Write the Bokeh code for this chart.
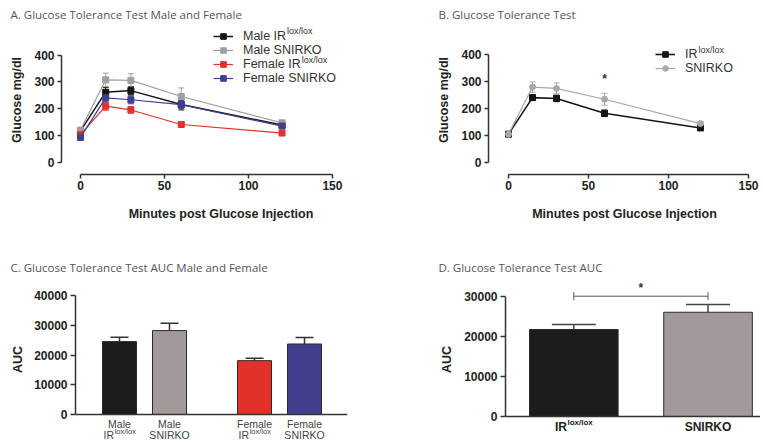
from bokeh.plotting import figure
from bokeh.models import (Range1d, FixedTicker, Whisker, TeeHead, ColumnDataSource,
                          Legend, LegendItem, Label, Span)
from bokeh.layouts import column, row
from bokeh.embed import file_html
from bokeh.resources import INLINE
from bokeh.core.properties import value

# ---------------- data ----------------
time_min = [0, 15, 30, 60, 120]

# Panel A: male and female
male_ir_mean = [118, 262, 268, 216, 140]
male_ir_sem = [8, 18, 15, 20, 8]
male_snirko_mean = [121, 308, 306, 246, 148]
male_snirko_sem = [8, 25, 25, 32, 10]
female_ir_mean = [104, 210, 196, 142, 110]
female_ir_sem = [6, 15, 12, 8, 5]
female_snirko_mean = [94, 241, 234, 216, 136]
female_snirko_sem = [6, 15, 15, 15, 8]

# Panel B: combined
b_ir_mean = [105, 240, 237, 182, 128]
b_ir_sem = [5, 10, 12, 12, 6]
b_snirko_mean = [105, 279, 274, 234, 144]
b_snirko_sem = [5, 19, 20, 22, 8]
b_star_time = [60]
b_star_y = [319]

glucose_x_ticks = [0, 50, 100, 150]
glucose_y_ticks = [0, 100, 200, 300, 400]

# Panel C: AUC male and female
c_sex = ["Male", "Male", "Female", "Female"]
c_genotype = ["IR", "SNIRKO", "IR", "SNIRKO"]
c_auc = [24500, 28200, 18100, 23700]
c_sem = [1500, 2500, 800, 2200]
c_y_ticks = [0, 10000, 20000, 30000, 40000]

# Panel D: AUC combined
d_genotype = ["IR", "SNIRKO"]
d_auc = [21700, 26000]
d_sem = [1250, 1900]
d_sig_y = [30000]
d_y_ticks = [0, 10000, 20000, 30000]

SUP = "lox/lox"

# ---------------- styles ----------------
AX_FONT = "Liberation Sans"
TITLE_FONT = "Open Sans"
AX_COLOR = "#333333"


def style_axes(p, xbounds=None, ybounds=None):
    p.grid.visible = False
    p.outline_line_color = None
    for ax in (p.xaxis, p.yaxis):
        ax.axis_line_color = AX_COLOR
        ax.axis_line_width = 1.5
        ax.major_tick_line_color = AX_COLOR
        ax.major_tick_line_width = 1.5
        ax.major_tick_out = 4
        ax.major_tick_in = 0
        ax.minor_tick_out = 0
        ax.minor_tick_in = 0
        ax.major_label_text_font = AX_FONT
        ax.major_label_text_font_size = "12px"
        ax.major_label_text_font_style = "bold"
        ax.major_label_text_color = "#222222"
        ax.axis_label_text_font = AX_FONT
        ax.axis_label_text_font_size = "12.5px"
        ax.axis_label_text_font_style = "bold"
        ax.axis_label_text_color = "#222222"
    p.yaxis.major_label_standoff = 3
    p.xaxis.major_label_standoff = 2
    if xbounds is not None:
        p.xaxis.bounds = xbounds
    if ybounds is not None:
        p.yaxis.bounds = ybounds


def style_title(p, text, offset, standoff):
    p.title.text = text
    p.title.align = "left"
    p.title.offset = offset
    p.title.standoff = standoff
    p.title.text_font = TITLE_FONT
    p.title.text_font_size = "11.5px"
    p.title.text_font_style = "normal"
    p.title.text_color = "#555555"


def text_label(x, y, text, size, xu="screen", x_offset=0, color="#333333", style="normal",
               align="left"):
    return Label(x=x, y=y, x_units=xu, y_units="screen", x_offset=x_offset, text=text,
                 text_font=AX_FONT, text_font_size=size, text_baseline="middle",
                 text_align=align, text_color=color, text_font_style=style)


def line_series(p, x, mean, sem, color, lw, marker="square", size=6):
    src = ColumnDataSource(dict(x=x, y=mean,
                                lo=[m - s for m, s in zip(mean, sem)],
                                hi=[m + s for m, s in zip(mean, sem)]))
    ln = p.line("x", "y", source=src, line_color=color, line_width=lw)
    sc = p.scatter("x", "y", source=src, marker=marker, size=size,
                   fill_color=color, line_color=color)
    wk = Whisker(source=src, base="x", lower="lo", upper="hi", line_color=color, line_width=1,
                 upper_head=TeeHead(size=6, line_color=color, line_width=1),
                 lower_head=TeeHead(size=6, line_color=color, line_width=1))
    p.add_layout(wk)
    return [ln, sc]


def make_legend(items, loc):
    return Legend(items=items, location=loc, padding=0, margin=0, spacing=0,
                  glyph_width=20, glyph_height=14, label_height=14, label_standoff=10,
                  label_text_font=AX_FONT, label_text_font_size="12.5px",
                  label_text_color="#333333", border_line_color=None, background_fill_alpha=0)


# ---------------- Panel A ----------------
pa = figure(width=380, height=228, x_range=Range1d(-11.3, 178.6), y_range=Range1d(-44.0, 510.1),
            output_backend="svg", toolbar_location=None,
            min_border_left=61, min_border_right=0, min_border_top=24, min_border_bottom=53)
style_axes(pa, xbounds=(0, 150), ybounds=(0, 400))
style_title(pa, "A. Glucose Tolerance Test Male and Female", offset=-51, standoff=8)
pa.xaxis.ticker = FixedTicker(ticks=glucose_x_ticks)
pa.yaxis.ticker = FixedTicker(ticks=glucose_y_ticks)
pa.xaxis.axis_label = "Minutes post Glucose Injection"
pa.xaxis.axis_label_standoff = 14
pa.yaxis.axis_label = "Glucose mg/dl"
pa.yaxis.axis_label_standoff = 7

series_a = [
    ("Male IR", male_ir_mean, male_ir_sem, "#151515", 1.5),
    ("Male SNIRKO", male_snirko_mean, male_snirko_sem, "#a0a0a0", 1.2),
    ("Female IR", female_ir_mean, female_ir_sem, "#e3312a", 1.2),
    ("Female SNIRKO", female_snirko_mean, female_snirko_sem, "#3f3f8e", 1.2),
]
items_a = []
for name, mean, sem, color, lw in series_a:
    rs = line_series(pa, time_min, mean, sem, color, lw)
    items_a.append(LegendItem(label=name, renderers=rs))
pa.add_layout(make_legend(items_a, (152, 89.5)))
pa.add_layout(text_label(225.6, 143.8, SUP, "9px"))
pa.add_layout(text_label(240.2, 115.0, SUP, "9px"))

# ---------------- Panel B ----------------
pb = figure(width=380, height=228, x_range=Range1d(-12.5, 157.5), y_range=Range1d(-44.0, 506.4),
            output_backend="svg", toolbar_location=None,
            min_border_left=108, min_border_right=0, min_border_top=24, min_border_bottom=54)
style_axes(pb, xbounds=(0, 150), ybounds=(0, 400))
style_title(pb, "B. Glucose Tolerance Test", offset=-50, standoff=8)
pb.xaxis.ticker = FixedTicker(ticks=glucose_x_ticks)
pb.yaxis.ticker = FixedTicker(ticks=glucose_y_ticks)
pb.xaxis.axis_label = "Minutes post Glucose Injection"
pb.xaxis.axis_label_standoff = 14
pb.yaxis.axis_label = "Glucose mg/dl"
pb.yaxis.axis_label_standoff = 7

series_b = [
    ("IR", b_ir_mean, b_ir_sem, "#151515", 1.6, "square"),
    ("SNIRKO", b_snirko_mean, b_snirko_sem, "#a8a8a8", 1.2, "circle"),
]
items_b = []
for name, mean, sem, color, lw, mk in series_b:
    rs = line_series(pb, time_min, mean, sem, color, lw, marker=mk)
    items_b.append(LegendItem(label=name, renderers=rs))
pb.add_layout(make_legend(items_b, (167, 99)))
pb.add_layout(text_label(210, 124.8, SUP, "9px"))
pb.text(x=b_star_time, y=b_star_y, text=["*"], text_align="center", text_baseline="middle",
        y_offset=3, text_font=value(AX_FONT), text_font_size="12px", text_font_style="bold",
        text_color="#333333")

# ---------------- Panel C ----------------
sex_order = []
for s in c_sex:
    if s not in sex_order:
        sex_order.append(s)
c_pos = [i + 0.7 * sex_order.index(s) for i, s in enumerate(c_sex)]
c_colors = ["#1d1b1b", "#a19a98", "#e3312a", "#3f3f8e"]

pc = figure(width=380, height=212, x_range=Range1d(-0.88, 4.56), y_range=Range1d(-8739, 45714),
            output_backend="svg", toolbar_location=None,
            min_border_left=75, min_border_right=33, min_border_top=50, min_border_bottom=0)
style_axes(pc, ybounds=(0, 40000))
style_title(pc, "C. Glucose Tolerance Test AUC Male and Female", offset=-65, standoff=8)
pc.xaxis.visible = False
pc.yaxis.ticker = FixedTicker(ticks=c_y_ticks)
pc.yaxis.major_tick_out = 5
pc.yaxis.axis_label = "AUC"
pc.yaxis.axis_label_standoff = 6
pc.add_layout(Span(location=0, dimension="width", line_color=AX_COLOR, line_width=1.5))

src_c = ColumnDataSource(dict(x=c_pos, top=c_auc, hi=[a + s for a, s in zip(c_auc, c_sem)],
                              color=c_colors))
pc.vbar(x="x", top="top", width=0.68, source=src_c, fill_color="color",
        line_color="#2a2a2a", line_width=1)
pc.add_layout(Whisker(source=src_c, base="x", lower="top", upper="hi", line_color="#333333",
                      line_width=1.5, lower_head=None,
                      upper_head=TeeHead(size=18, line_color="#333333", line_width=1.5)))
C_LAB = "#444444"
for p_, s, g in zip(c_pos, c_sex, c_genotype):
    pc.add_layout(text_label(p_, 17, s, "10.5px", xu="data", color=C_LAB, align="center"))
    if g == "IR":
        pc.add_layout(text_label(p_, 6, g, "10.5px", xu="data", x_offset=-16.0, color=C_LAB))
        pc.add_layout(text_label(p_, 9.5, SUP, "7.5px", xu="data", x_offset=-4.8, color=C_LAB))
    else:
        pc.add_layout(text_label(p_, 6, g, "10.5px", xu="data", color=C_LAB, align="center"))

# ---------------- Panel D ----------------
d_pos = list(range(len(d_genotype)))
d_colors = ["#1d1b1b", "#a19a98"]

pd_ = figure(width=380, height=212, x_range=Range1d(-0.509, 1.391), y_range=Range1d(-5985, 34414),
             output_backend="svg", toolbar_location=None,
             min_border_left=125, min_border_right=0, min_border_top=50, min_border_bottom=0)
style_axes(pd_, ybounds=(0, 30000))
style_title(pd_, "D. Glucose Tolerance Test AUC", offset=-67, standoff=8)
pd_.xaxis.visible = False
pd_.yaxis.ticker = FixedTicker(ticks=d_y_ticks)
pd_.yaxis.major_tick_out = 5
pd_.yaxis.axis_label = "AUC"
pd_.yaxis.axis_label_standoff = 7
pd_.add_layout(Span(location=0, dimension="width", line_color=AX_COLOR, line_width=1.5))

src_d = ColumnDataSource(dict(x=d_pos, top=d_auc, hi=[a + s for a, s in zip(d_auc, d_sem)],
                              color=d_colors))
pd_.vbar(x="x", top="top", width=0.66, source=src_d, fill_color="color",
         line_color="#2a2a2a", line_width=1)
pd_.add_layout(Whisker(source=src_d, base="x", lower="top", upper="hi", line_color="#444444",
                       line_width=1.5, lower_head=None,
                       upper_head=TeeHead(size=44, line_color="#444444", line_width=1.5)))
src_sig = ColumnDataSource(dict(base=d_sig_y, lower=[d_pos[0]], upper=[d_pos[1]]))
pd_.add_layout(Whisker(source=src_sig, dimension="width", base="base", lower="lower", upper="upper",
                       line_color="#555555", line_width=1,
                       upper_head=TeeHead(size=8, line_color="#555555", line_width=1),
                       lower_head=TeeHead(size=8, line_color="#555555", line_width=1)))
pd_.text(x=[(d_pos[0] + d_pos[1]) / 2], y=d_sig_y, text=["*"], text_align="center",
         text_baseline="bottom", y_offset=-1, text_font=value(AX_FONT), text_font_size="12px",
         text_font_style="bold", text_color="#333333")
for p_, g in zip(d_pos, d_genotype):
    if g == "IR":
        pd_.add_layout(text_label(p_, 14, g, "12px", xu="data", x_offset=-18.9,
                                  color="#222222", style="bold"))
        pd_.add_layout(text_label(p_, 18.5, SUP, "8px", xu="data", x_offset=-6.4,
                                  color="#222222", style="bold"))
    else:
        pd_.add_layout(text_label(p_, 14, g, "12px", xu="data", color="#222222",
                                  style="bold", align="center"))

layout = column(row(pa, pb), row(pc, pd_))
open("out.html", "w").write(file_html(layout, INLINE))
